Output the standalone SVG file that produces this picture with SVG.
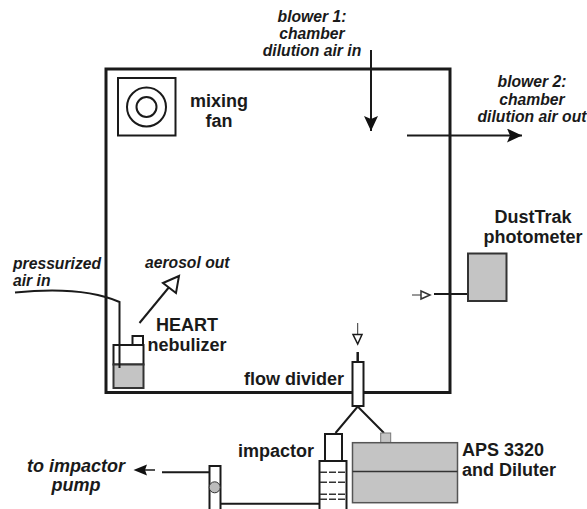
<svg xmlns="http://www.w3.org/2000/svg" width="587" height="509" viewBox="0 0 587 509">
<defs><style>
.l{font-family:"Liberation Sans",Arial,sans-serif;font-weight:bold;font-size:18px;fill:#1a1a1a;text-anchor:middle}
.i{font-family:"Liberation Sans",Arial,sans-serif;font-weight:bold;font-style:italic;font-size:15.700px;fill:#1a1a1a;text-anchor:middle}
.t{font-size:18px}
.s{text-anchor:start}
.b{fill:#fff;stroke:#1a1a1a;stroke-width:2}
.g{fill:#c4c4c4;stroke:#333;stroke-width:2}
.w{fill:none;stroke:#1a1a1a;stroke-width:2}
</style>
<marker id="a" markerWidth="16" markerHeight="14" refX="15" refY="7" orient="auto" markerUnits="userSpaceOnUse"><path d="M0 0L15 7L0 14L3 7Z" fill="#111"/></marker></defs>
<rect width="587" height="509" fill="#fff"/>
<g id="chamber"><rect x="106" y="69" width="344" height="323.500" fill="none" stroke="#1a1a1a" stroke-width="3"/></g>
<g id="connectors">
<path class="w" d="M15 292.500C50 289 90 289 119.500 302V368"/>
<path class="w" d="M139.500 323L170 286"/><path d="M163 283L179 276L176 293Z" fill="#fff" stroke="#1a1a1a" stroke-width="2"/>
<path class="w" d="M371 50V131" marker-end="url(#a)"/>
<path class="w" d="M407 135.500H522" marker-end="url(#a)"/>
<path class="w" d="M434 294H468"/>
<path d="M412 295H421" stroke="#333"/><path d="M421 291L430 295L421 299Z" fill="#fff" stroke="#333" stroke-width="1.500"/>
<path d="M357.700 323V335" stroke="#333"/><path d="M353 334.500H362L357.700 344Z" fill="#fff" stroke="#1a1a1a" stroke-width="1.500"/>
<path d="M357.700 352V362" stroke="#1a1a1a" stroke-width="2.500"/>
<path class="w" d="M335.500 433L357.700 406.500L384 433"/>
<path class="w" d="M162 472.300H209.500M221 503.700H319.500"/>
<path d="M140 470H155" stroke="#1a1a1a" stroke-width="1.500"/><path d="M133.500 470L147 464.500L145 470L147 475.500Z" fill="#111"/>
</g>
<g id="fan"><rect x="118" y="78" width="57.500" height="57.500" class="b"/><circle cx="146.500" cy="107" r="19.500" class="b"/><circle cx="146.500" cy="107" r="10" class="b"/></g>
<g id="nebulizer"><rect x="132.500" y="336" width="10.500" height="9.500" class="b"/><rect x="113.500" y="345" width="30" height="19.500" class="b"/><rect x="113.500" y="364.500" width="30" height="23.500" class="g"/><path class="w" d="M119.500 345V368"/></g>
<g id="dusttrak"><rect x="468" y="253.500" width="38.500" height="47.500" class="g"/></g>
<g id="divider"><rect x="352.500" y="362" width="11" height="44" class="b"/></g>
<g id="impactor"><rect x="325" y="434" width="17" height="27" class="b"/><rect x="319.500" y="461" width="27" height="49" class="b"/><path d="M320 472.300H346M320 482.300H346M320 494.300H346M320 499.300H346" stroke="#333" stroke-width="1.500" stroke-dasharray="7 2"/></g>
<g id="valve"><rect x="209.500" y="466" width="11" height="44" class="b"/><circle cx="214.700" cy="487.300" r="5.500" fill="#bbb" stroke="#333"/></g>
<g id="aps"><rect x="380.700" y="433" width="10" height="9.500" fill="#c4c4c4" stroke="#777"/><rect x="352.500" y="442.700" width="105" height="60" fill="#c4c4c4" stroke="#555" stroke-width="1.500"/><path d="M352.500 471.500H457.500" stroke="#333" stroke-width="1.500"/></g>
<g id="labels">
<text class="i" x="312" y="22">blower 1:</text><text class="i" x="312" y="39">chamber</text><text class="i" x="312" y="56">dilution air in</text>
<text class="i" x="532" y="87">blower 2:</text><text class="i" x="532" y="105">chamber</text><text class="i" x="532" y="122">dilution air out</text>
<text class="l" x="219" y="106.500">mixing</text><text class="l" x="219" y="126.500">fan</text>
<text class="l" x="533" y="223">DustTrak</text><text class="l" x="533" y="243">photometer</text>
<text class="i s" x="13" y="269">pressurized</text><text class="i s" x="13" y="286">air in</text>
<text class="i s" x="145" y="268">aerosol out</text>
<text class="l" x="187" y="331">HEART</text><text class="l" x="187" y="351">nebulizer</text>
<text class="l" x="294" y="385">flow divider</text>
<text class="l" x="276" y="457">impactor</text>
<text class="l s" x="462" y="456">APS 3320</text><text class="l s" x="462" y="476">and Diluter</text>
<text class="i t" x="76" y="472">to impactor</text><text class="i t" x="76" y="491">pump</text>
</g>
</svg>
